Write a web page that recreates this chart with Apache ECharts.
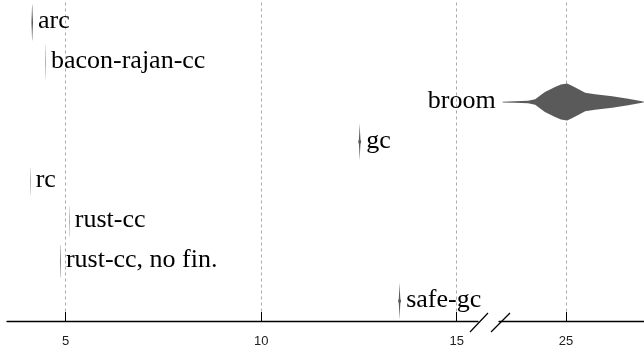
<!DOCTYPE html>
<html>
<head>
<meta charset="utf-8">
<script src="https://cdn.jsdelivr.net/npm/echarts@6/dist/echarts.min.js"></script>
<style>
html,body{margin:0;padding:0;background:#fff;}
#chart{width:644px;height:349px;}
</style>
</head>
<body>
<div id="chart"></div>
<script>
// ---- data ----
const categories = ['arc', 'bacon-rajan-cc', 'broom', 'gc', 'rc', 'rust-cc', 'rust-cc, no fin.', 'safe-gc'];

// sampled positions (x values) of each violin's density outline
const arcX    = [4.125, 4.135, 4.142, 4.148, 4.155, 4.165];
const arcD    = [0, 0.55, 1.0, 0.9, 0.45, 0];
const baconX  = [4.484, 4.488, 4.492, 4.496];
const baconD  = [0, 0.8, 1.0, 0];
const broomX  = [23.38, 23.70, 24.03, 24.21, 24.46, 24.72, 24.87, 25.03, 25.15, 25.31, 25.49, 25.74, 26.18, 26.59, 26.94, 27.04];
const broomD  = [0.02, 0.04, 0.07, 0.15, 0.54, 0.81, 0.95, 1.0, 0.88, 0.70, 0.50, 0.42, 0.31, 0.18, 0.04, 0];
const gcX     = [12.48, 12.50, 12.51, 12.52, 12.53, 12.54, 12.56];
const gcD     = [0, 0.12, 0.5, 1.0, 0.5, 0.12, 0];
const rcX     = [4.094, 4.098, 4.102, 4.106];
const rcD     = [0, 0.75, 0.7, 0];
const rustX   = [5.094, 5.098, 5.102, 5.106];
const rustD   = [0, 0.85, 0.8, 0];
const noFinX  = [4.860, 4.866, 4.872, 4.878];
const noFinD  = [0, 0.9, 0.85, 0];
const safeX   = [13.50, 13.52, 13.53, 13.54, 13.55, 13.56, 13.58];
const safeD   = [0, 0.12, 0.5, 1.0, 0.5, 0.12, 0];

const violinX = [arcX, baconX, broomX, gcX, rcX, rustX, noFinX, safeX];
const violinD = [arcD, baconD, broomD, gcD, rcD, rustD, noFinD, safeD];

const leftTicks  = [5, 10, 15];
const rightTicks = [25];
const leftRange  = [3.5, 15.546];
const rightRange = [23.286, 26.994];

// ---- chart ----
const W = 644;
const labelFont = '26px "Liberation Serif", "Times New Roman", serif';
const measureCtx = document.createElement('canvas').getContext('2d');
measureCtx.font = labelFont;

function renderViolin(params, api) {
  const idx = api.value(1);
  const xs = violinX[idx], ds = violinD[idx];
  const band = api.size([0, 1])[1];
  const top = [], bot = [];
  let minX = Infinity, maxX = -Infinity, cy = 0;
  for (let k = 0; k < xs.length; k++) {
    const p = api.coord([xs[k], idx]);
    const h = ds[k] * band * 0.465;
    top.push([p[0], p[1] - h]);
    bot.unshift([p[0], p[1] + h]);
    minX = Math.min(minX, p[0]); maxX = Math.max(maxX, p[0]);
    cy = p[1];
  }
  const text = categories[idx];
  const tw = measureCtx.measureText(text).width;
  let tx, align;
  if (maxX + 6 + tw > W) { tx = minX - 7; align = 'right'; }
  else { tx = maxX + 5; align = 'left'; }
  return {
    type: 'group',
    children: [
      { type: 'polygon', shape: { points: top.concat(bot) }, style: { fill: '#5a5a5a', stroke: null } },
      { type: 'text', style: { text: text, x: tx, y: cy - 1, align: align, verticalAlign: 'middle',
          font: labelFont, fill: '#000' } }
    ]
  };
}

const leftData = [], rightData = [];
categories.forEach((c, i) => {
  const xs = violinX[i];
  if (xs[0] > leftRange[1]) rightData.push([xs[0], i]);
  else leftData.push([xs[0], i]);
});

function xAxisCfg(gridIndex, range, ticks) {
  return {
    type: 'value', gridIndex: gridIndex, min: range[0], max: range[1],
    axisLine: { show: true, onZero: false, lineStyle: { color: '#000', width: 1.3 } },
    axisTick: { show: true, inside: true, length: 9, customValues: ticks, lineStyle: { color: '#000', width: 1 } },
    axisLabel: { show: true, customValues: ticks, margin: 14, fontSize: 13, color: '#222',
      fontFamily: '"Liberation Sans", Arial, sans-serif' },
    splitLine: { show: true, lineStyle: { color: '#aaa', type: [3, 3], width: 1 } },
    showMinLabel: false, showMaxLabel: false
  };
}
function yAxisCfg(gridIndex) {
  return {
    type: 'category', gridIndex: gridIndex, data: categories, inverse: true,
    axisLine: { show: false }, axisTick: { show: false }, axisLabel: { show: false }, splitLine: { show: false }
  };
}

const chart = echarts.init(document.getElementById('chart'), null, { renderer: 'canvas' });
chart.setOption({
  animation: false,
  backgroundColor: '#fff',
  grid: [
    { left: 7, width: 471, top: 2.5, bottom: 28 },
    { left: 499, width: 145, top: 2.5, bottom: 28 }
  ],
  xAxis: [xAxisCfg(0, leftRange, leftTicks), xAxisCfg(1, rightRange, rightTicks)],
  yAxis: [yAxisCfg(0), yAxisCfg(1)],
  series: [
    { type: 'custom', xAxisIndex: 0, yAxisIndex: 0, data: leftData, encode: { x: 0, y: 1 },
      renderItem: renderViolin, clip: false, z: 3 },
    { type: 'custom', xAxisIndex: 1, yAxisIndex: 1, data: rightData, encode: { x: 0, y: 1 },
      renderItem: renderViolin, clip: false, z: 3 }
  ],
  graphic: [
    { type: 'line', shape: { x1: 470, y1: 332, x2: 488, y2: 313 }, style: { stroke: '#000', lineWidth: 1.2 } },
    { type: 'line', shape: { x1: 491, y1: 332, x2: 510, y2: 313 }, style: { stroke: '#000', lineWidth: 1.2 } }
  ]
});
</script>
</body>
</html>
